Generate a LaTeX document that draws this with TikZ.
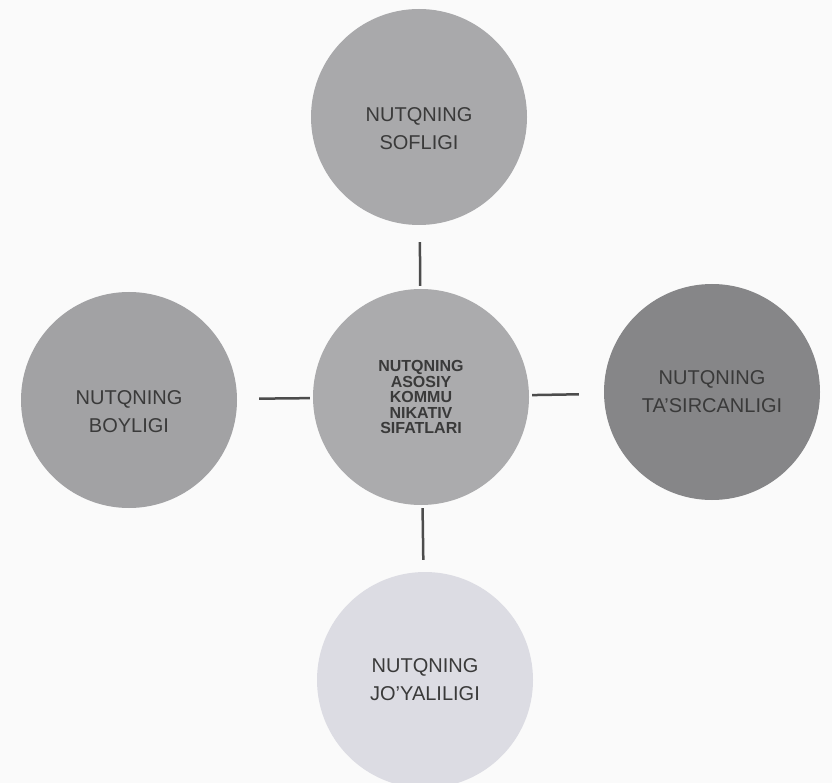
\documentclass[tikz,border=0pt]{standalone}
\usepackage{fontspec}
\setmainfont{Liberation Sans}
\usepackage{tikz}

\definecolor{topgray}{HTML}{A9A9AB}
\definecolor{leftgray}{HTML}{A2A2A4}
\definecolor{midgray}{HTML}{ABABAD}
\definecolor{rightgray}{HTML}{868688}
\definecolor{lowgray}{HTML}{DCDCE3}
\definecolor{inkgray}{HTML}{3A3A3A}

\begin{document}
\begin{tikzpicture}[x=1pt, y=-1pt,
        main/.style = {circle, minimum size=216pt, inner sep=0pt, align=center,
                       text=inkgray, font=\fontsize{20}{28}\selectfont},
        core/.style = {main, font=\fontsize{16}{15.5}\selectfont\bfseries},
        link/.style = {draw=black!70, line width=2.5pt}]
                \useasboundingbox[fill=black!2] (0, 0) rectangle (832, 783);

                \node[main, fill=topgray] at (419, 117) (sof) {\rule{0pt}{38pt}NUTQNING\\SOFLIGI};
                \node[main, fill=leftgray] at (129, 400) (boy) {\rule{0pt}{38pt}NUTQNING\\BOYLIGI};
                \node[core, fill=midgray] at (421, 397) (asos) {NUTQNING\\ASOSIY\\KOMMU\\NIKATIV\\SIFATLARI};
                \node[main, fill=rightgray] at (712, 392) (tas) {NUTQNING\\TA'SIRCANLIGI};
                \node[main, fill=lowgray] at (425, 680) (joy) {NUTQNING\\JO'YALILIGI};

                \draw [link, shorten <=3pt, shorten >=17pt] (asos) -- (sof);
                \draw [link, shorten <=3pt, shorten >=22pt] (asos) -- (boy);
                \draw [link, shorten <=3pt, shorten >=25pt] (asos) -- (tas);
                \draw [link, shorten <=3pt, shorten >=12pt] (asos) -- (joy);
            \end{tikzpicture}
\end{document}
